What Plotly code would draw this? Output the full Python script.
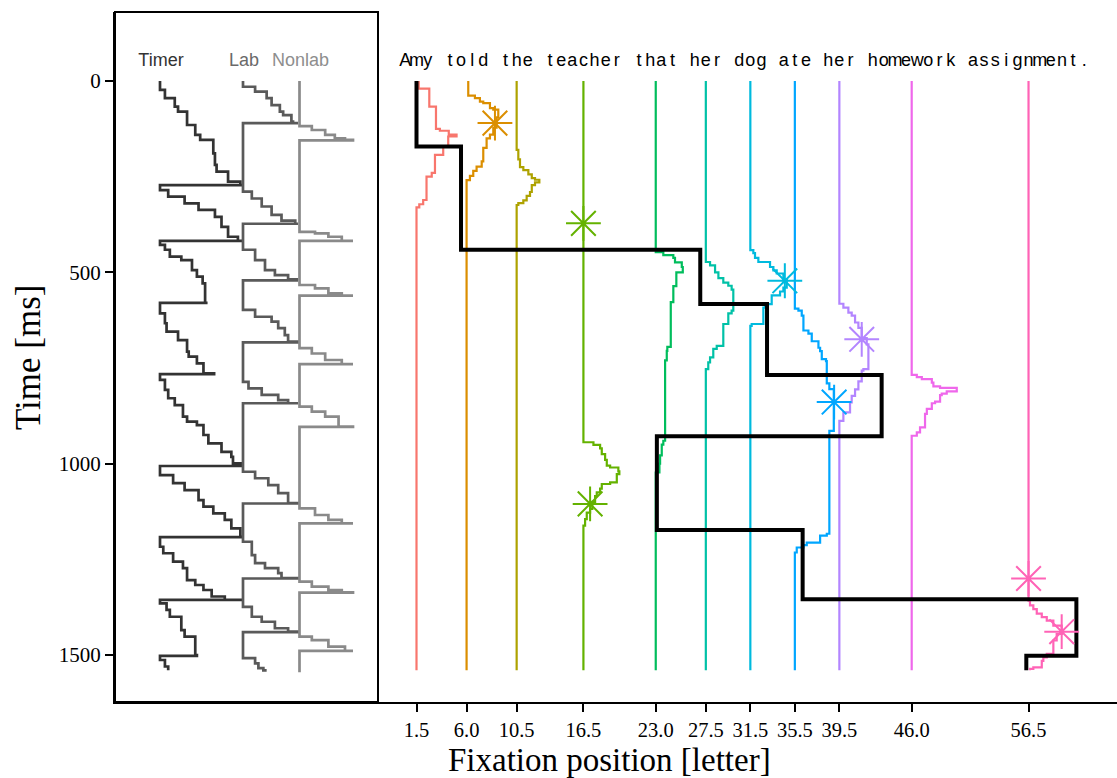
import plotly.graph_objects as go

# ---------------- data ----------------
sentence = "Amy told the teacher that her dog ate her homework assignment."
word_centers = [1.5, 6.0, 10.5, 16.5, 23.0, 27.5, 31.5, 35.5, 39.5, 46.0, 56.5]
word_colors = ["#F8766D", "#DB8E00", "#AEA200", "#64B200", "#00BD5C", "#00C1A7",
               "#00BADE", "#00A6FF", "#B385FF", "#EF67EB", "#FF63B6"]
T_END = 1540

# activation (letters) of each word over time [ms]; value holds from its time until next
act_t = [
    [0, 20, 67, 125, 130, 140, 145, 171, 193, 240, 250, 311, 322, 330, T_END],
    [0, 38, 45, 54, 58, 71, 75, 95, 122, 140, 150, 175, 210, 224, 235, 248, 259, T_END],
    [0, 180, 205, 225, 233, 244, 254, 258, 265, 272, 290, 300, 312, 319, 324, T_END],
    [0, 944, 951, 960, 975, 990, 1005, 1010, 1020, 1027, 1049, 1053, 1065, 1075, 1085, 1100, 1118, 1128, 1145, 1162, T_END],
    [0, 447, 455, 462, 474, 486, 500, 536, 578, 695, 705, 730, 940, 950, 978, 1000, 1023, T_END],
    [0, 473, 482, 500, 515, 527, 535, 545, 600, 607, 635, 692, 700, 722, 735, 753, T_END],
    [0, 442, 450, 462, 473, 486, 495, 503, 520, 540, 550, 560, 583, 592, 635, 640, T_END],
    [0, 595, 600, 613, 652, 660, 680, 697, 706, 727, 732, 790, 805, 914, 1183, 1188, 1206, 1213, 1219, 1232, T_END],
    [0, 582, 592, 605, 613, 631, 645, 672, 688, 753, 757, 785, 806, 823, 840, 866, 888, T_END],
    [0, 768, 774, 779, 788, 798, 802, 811, 817, 821, 838, 842, 857, 870, 905, 918, 927, T_END],
    [0, 1358, 1370, 1380, 1392, 1401, 1410, 1423, 1445, 1462, 1497, 1506, 1515, 1532, 1536, T_END],
]
act_v = [
    [0.2, 1.15, 1.75, 2.1, 2.9, 3.6, 2.85, 2.4, 1.66, 1.37, 0.9, 0.6, 0.25, 0, 0],
    [0.15, 0.75, 1.2, 1.5, 2.1, 2.4, 2.85, 2.7, 2.4, 2.1, 1.8, 1.5, 1.36, 0.9, 0.6, 0.3, 0, 0],
    [0, 0.15, 0.3, 0.6, 1.05, 1.36, 1.65, 2.04, 1.65, 1.36, 1.2, 0.9, 0.6, 0.15, 0, 0],
    [0, 0.9, 1.5, 1.65, 1.95, 2.1, 2.4, 3.14, 3.23, 3.0, 2.4, 1.65, 1.5, 1.2, 1.05, 0.8, 0.6, 0.3, 0.15, 0, 0],
    [0, 0.68, 1.58, 1.73, 2.34, 2.43, 1.85, 1.58, 1.35, 1.04, 0.99, 0.84, 0.68, 0.54, 0.39, 0.33, 0, 0],
    [0, 0.38, 0.83, 1.13, 1.57, 2.02, 2.32, 2.47, 2.32, 2.02, 1.57, 0.98, 0.67, 0.38, 0.22, 0, 0],
    [0, 0.27, 0.42, 0.72, 1.77, 2.07, 2.37, 2.97, 3.27, 2.97, 2.67, 1.92, 1.32, 1.17, 0.12, 0, 0],
    [0, 0.32, 0.62, 0.77, 1.22, 1.52, 2.12, 2.27, 2.42, 2.8, 2.87, 3.1, 3.5, 3.1, 2.87, 2.27, 1.07, 0.77, 0.17, 0, 0],
    [0, 0.36, 0.81, 1.11, 1.41, 1.71, 2.01, 2.46, 2.61, 2.16, 2.01, 1.71, 1.41, 1.11, 0.96, 0.36, 0, 0],
    [0, 0.46, 0.91, 1.81, 1.95, 2.55, 4.05, 3.15, 2.7, 2.55, 2.1, 1.81, 1.36, 1.2, 0.75, 0.46, 0, 0],
    [0, 0.13, 0.43, 0.74, 1.19, 1.64, 2.23, 2.98, 2.53, 2.23, 1.64, 1.33, 1.19, 0.43, 0.13, 0.13],
]

# saccade target selections (stars): word index, time, activation
star_word = [1, 3, 6, 8, 7, 3, 10, 10]
star_t = [110, 372, 522, 675, 839, 1105, 1300, 1439]
star_act = [2.55, 0.0, 3.1, 2.01, 3.53, 0.6, 0.0, 2.98]

# fixation path
fix_pos = [1.5, 5.5, 27.0, 33.0, 43.3, 23.1, 36.2, 60.8, 56.3]
fix_onset = [0, 171, 441, 583, 768, 928, 1173, 1354, 1502]

# left panel processes (level 0..1 over time)
timer_t = [0, 23, 45, 67, 80, 115, 141, 154, 189, 219, 237, 263, 272, 272,
           285, 302, 320, 337, 355, 381, 407, 418, 418,
           428, 441, 459, 468, 494, 511, 529, 580, 580,
           607, 633, 655, 677, 707, 720, 738, 764, 766,
           781, 807, 829, 847, 877, 890, 899, 925, 947, 969, 982, 999, 1006,
           1030, 1051, 1069, 1095, 1112, 1130, 1147, 1169, 1191, 1192,
           1217, 1234, 1256, 1273, 1304, 1317, 1330, 1347, 1356, 1356,
           1365, 1382, 1400, 1435, 1452, 1500, 1502,
           1513, 1530, 1540]
timer_lv = [0, 0.06, 0.18, 0.22, 0.33, 0.43, 0.49, 0.65, 0.67, 0.69, 0.83, 0.98, 1.0, 0,
            0.10, 0.30, 0.47, 0.67, 0.75, 0.83, 0.95, 1.0, 0,
            0.06, 0.12, 0.26, 0.39, 0.45, 0.52, 0.55, 0.58, 0,
            0.06, 0.08, 0.22, 0.33, 0.35, 0.45, 0.53, 0.66, 0,
            0.06, 0.10, 0.18, 0.28, 0.33, 0.45, 0.53, 0.59, 0.75, 0.87, 0.89, 1.0, 0,
            0.16, 0.30, 0.47, 0.53, 0.65, 0.79, 0.87, 0.98, 1.0, 0,
            0.04, 0.16, 0.28, 0.33, 0.43, 0.53, 0.63, 0.79, 1.0, 0,
            0.08, 0.12, 0.26, 0.30, 0.43, 0.45, 0,
            0.06, 0.10, 0.10]

lab_t = [0, 15, 28, 45, 63, 80, 89, 106, 110, 110,
         272, 289, 307, 328, 350, 365, 373, 373,
         418, 441, 468, 494, 507, 518, 521, 521,
         582, 598, 616, 629, 646, 664, 681, 683,
         767, 786, 803, 820, 834, 842, 842,
         1006, 1021, 1038, 1056, 1077, 1103, 1104,
         1192, 1204, 1239, 1260, 1273, 1286, 1299, 1300,
         1356, 1374, 1400, 1413, 1430, 1439, 1440,
         1502, 1508, 1522, 1534, 1540]
lab_lv = [0, 0.22, 0.43, 0.52, 0.67, 0.73, 0.88, 0.91, 1.0, 0,
          0, 0.16, 0.34, 0.52, 0.70, 0.95, 1.0, 0,
          0, 0.22, 0.40, 0.58, 0.82, 0.98, 1.0, 0,
          0, 0.22, 0.52, 0.64, 0.76, 0.82, 1.0, 0,
          0, 0.10, 0.34, 0.64, 0.82, 1.0, 0,
          0, 0.22, 0.46, 0.64, 0.82, 1.0, 0,
          0, 0.16, 0.22, 0.40, 0.64, 0.70, 1.0, 0,
          0, 0.16, 0.34, 0.58, 0.82, 1.0, 0,
          0, 0.22, 0.28, 0.37, 0.43, 0.43]

nonlab_t = [0, 110, 118, 128, 141, 150, 154, 155,
            373, 394, 398, 407, 418, 418,
            521, 533, 542, 555, 561, 561,
            683, 698, 712, 729, 740, 740,
            842, 851, 864, 877, 903, 904,
            1104, 1117, 1134, 1147, 1156, 1156,
            1300, 1308, 1321, 1330, 1336, 1337,
            1440, 1452, 1461, 1478, 1489, 1489,
            1545]
nonlab_lv = [0, 0, 0.23, 0.48, 0.66, 0.85, 1.0, 0,
             0, 0.29, 0.54, 0.79, 1.0, 0,
             0, 0.29, 0.54, 0.79, 1.0, 0,
             0, 0.23, 0.48, 0.79, 1.0, 0,
             0, 0.23, 0.48, 0.73, 1.0, 0,
             0, 0.29, 0.54, 0.79, 1.0, 0,
             0, 0.23, 0.54, 0.79, 1.0, 0,
             0, 0.23, 0.54, 0.85, 1.0, 0,
             0]

process_names = ["Timer", "Lab", "Nonlab"]

# ---------------- styling ----------------
proc_colors = ["#333333", "#5a5a5a", "#8a8a8a"]
label_colors = ["#333333", "#6a6a6a", "#8e8e8e"]
proc_base = [45, 128, 184.5]      # x2 units (panel px)
proc_width = [82, 55, 53.5]
LABEL_T = -52
SERIF = "Liberation Serif"
SANS = "Liberation Sans"

fig = go.Figure()

# left panel processes
for name, tt, lv, col, b, w in zip(process_names, [timer_t, lab_t, nonlab_t],
                                   [timer_lv, lab_lv, nonlab_lv], proc_colors,
                                   proc_base, proc_width):
    fig.add_trace(go.Scatter(x=[b + w * v for v in lv], y=tt, mode="lines",
                             line=dict(color=col, width=2.7, shape="vh"),
                             xaxis="x2", yaxis="y", showlegend=False, hoverinfo="skip"))
fig.add_trace(go.Scatter(x=[b + 1 for b in proc_base], y=[LABEL_T] * 3, mode="text",
                         text=process_names,
                         textfont=dict(family=SANS, size=18, color=label_colors),
                         textposition="middle center",
                         xaxis="x2", yaxis="y", showlegend=False, hoverinfo="skip"))

# word activation traces
for c, col, tt, vv in zip(word_centers, word_colors, act_t, act_v):
    fig.add_trace(go.Scatter(x=[c + v for v in vv], y=tt, mode="lines",
                             line=dict(color=col, width=2.2, shape="vh"),
                             showlegend=False, hoverinfo="skip"))

# fixation path
fig.add_trace(go.Scatter(x=fix_pos + [fix_pos[-1]], y=fix_onset + [T_END], mode="lines",
                         line=dict(color="black", width=4, shape="vh"),
                         showlegend=False, hoverinfo="skip"))

# stars
star_cols = [word_colors[w] for w in star_word]
fig.add_trace(go.Scatter(x=[word_centers[w] + a for w, a in zip(star_word, star_act)],
                         y=star_t, mode="markers",
                         marker=dict(symbol="asterisk-open", size=29, color=star_cols,
                                     line=dict(width=2, color=star_cols)),
                         showlegend=False, hoverinfo="skip"))

# sentence letters
chars = [(i + 0.5, ch) for i, ch in enumerate(sentence) if ch != " "]
fig.add_trace(go.Scatter(x=[p for p, _ in chars], y=[LABEL_T] * len(chars), mode="text",
                         text=[ch for _, ch in chars],
                         textfont=dict(family=SANS, size=18, color="black"),
                         textposition="middle center", showlegend=False, hoverinfo="skip"))

split = 263 / 1002
fig.update_layout(
    width=1117, height=778,
    margin=dict(l=115, r=0, t=12, b=76),
    paper_bgcolor="white", plot_bgcolor="white",
    xaxis=dict(domain=[split, 1], range=[-1.96, 64.45], anchor="y",
               tickmode="array", tickvals=word_centers,
               ticktext=[f"{v:.1f}" for v in word_centers],
               ticks="outside", ticklen=8, tickwidth=2, tickcolor="black",
               showline=True, linecolor="black", linewidth=2,
               showgrid=False, zeroline=False,
               tickfont=dict(family=SERIF, size=20.5, color="black")),
    xaxis2=dict(domain=[0, split], range=[0, 263], anchor="y",
                showticklabels=False, ticks="", showgrid=False, zeroline=False,
                showline=True, linecolor="black", linewidth=2),
    yaxis=dict(range=[1622.7, -180.3], anchor="x2",
               tickmode="array", tickvals=[0, 500, 1000, 1500],
               ticks="outside", ticklen=8, tickwidth=2, tickcolor="black",
               showline=True, linecolor="black", linewidth=2,
               showgrid=False, zeroline=False,
               tickfont=dict(family=SERIF, size=21, color="black")),
    shapes=[dict(type="rect", xref="paper", yref="paper", x0=0, x1=split, y0=0, y1=1,
                 line=dict(color="black", width=2), fillcolor="rgba(0,0,0,0)")],
    annotations=[
        dict(text="Fixation position [letter]", xref="paper", yref="paper",
             x=0.494, y=-0.084, xanchor="center", yanchor="middle", showarrow=False,
             font=dict(family=SERIF, size=33, color="black")),
        dict(text="Time [ms]", xref="paper", yref="paper",
             x=-0.0868, y=0.5, xanchor="center", yanchor="middle", textangle=-90,
             showarrow=False, font=dict(family=SERIF, size=35, color="black")),
    ],
)

fig.write_html("out.html")
